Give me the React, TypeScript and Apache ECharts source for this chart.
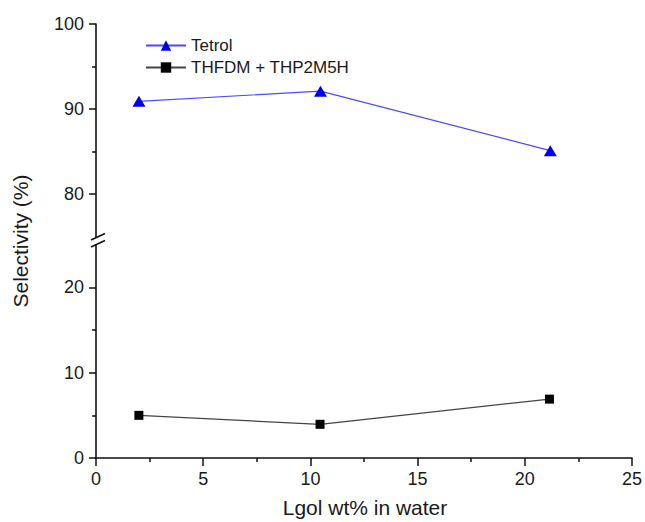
import React, { useEffect, useRef } from "react";
import * as echarts from "echarts";

const xValues = [2.0, 10.45, 21.15];
const tetrolValues = [90.9, 92.1, 85.1];
const thfdmValues = [5.0, 3.95, 6.9];
const seriesNames = ["Tetrol", "THFDM + THP2M5H"];
const upperMajorTicks = [80, 90, 100];
const upperMinorTicks = [85, 95];
const lowerMajorTicks = [0, 10, 20];
const lowerMinorTicks = [5, 15];
const xTitle = "Lgol wt% in water";
const yTitle = "Selectivity (%)";

const FONT = "Liberation Sans, Arial, sans-serif";
const AXIS_COLOR = "#111";
const LABEL_COLOR = "#1a1a1a";

export default function App() {
  const ref = useRef<HTMLDivElement>(null);
  useEffect(() => {
    document.body.style.margin = "0";
    if (!ref.current) return;
    const chart = echarts.init(ref.current, undefined, { renderer: "svg" });
    const gridLeft = 96;
    const gridRight = 12;
    const upperTop = 24;
    const upperHeight = 212.5;
    const lowerTop = 244.7;
    const lowerHeight = 213.3;

    const xAxisBase = {
      type: "value",
      min: 0,
      max: 25,
      interval: 5,
      splitLine: { show: false },
    };
    const yMain = (grid: number, min: number, max: number, ticks: number[]) => ({
      type: "value",
      gridIndex: grid,
      position: "left",
      min,
      max,
      interval: 5,
      splitLine: { show: false },
      axisLine: { show: true, lineStyle: { color: AXIS_COLOR, width: 1.6 } },
      axisTick: {
        show: true,
        length: 7,
        customValues: ticks,
        lineStyle: { color: AXIS_COLOR, width: 1.5 },
      },
      axisLabel: {
        customValues: ticks,
        fontSize: 18,
        color: LABEL_COLOR,
        fontFamily: FONT,
        margin: 12,
      },
    });
    const yMinor = (grid: number, min: number, max: number, ticks: number[]) => ({
      type: "value",
      gridIndex: grid,
      position: "left",
      offset: 0,
      min,
      max,
      interval: 5,
      splitLine: { show: false },
      axisLine: { show: false },
      axisTick: {
        show: true,
        length: 4,
        customValues: ticks,
        lineStyle: { color: AXIS_COLOR, width: 1.5 },
      },
      axisLabel: { show: false },
    });

    const legendBase = {
      left: 140,
      orient: "horizontal",
      itemWidth: 40,
      itemHeight: 13,
      itemGap: 6,
      textStyle: { fontSize: 17, color: LABEL_COLOR, fontFamily: FONT },
    };

    chart.setOption({
      animation: false,
      backgroundColor: "#ffffff",
      textStyle: { fontFamily: FONT },
      grid: [
        { left: gridLeft, right: gridRight, top: upperTop, height: upperHeight },
        { left: gridLeft, right: gridRight, top: lowerTop, height: lowerHeight },
      ],
      xAxis: [
        {
          ...xAxisBase,
          gridIndex: 0,
          show: false,
        },
        {
          ...xAxisBase,
          gridIndex: 1,
          axisLine: { show: true, lineStyle: { color: AXIS_COLOR, width: 1.6 } },
          axisTick: { show: true, length: 8, lineStyle: { color: AXIS_COLOR, width: 1.5 } },
          minorTick: {
            show: true,
            splitNumber: 2,
            length: 4,
            lineStyle: { color: AXIS_COLOR, width: 1.5 },
          },
          axisLabel: {
            fontSize: 18,
            color: LABEL_COLOR,
            fontFamily: FONT,
            margin: 12,
          },
        },
      ],
      yAxis: [
        yMain(0, 75, 100, upperMajorTicks),
        yMinor(0, 75, 100, upperMinorTicks),
        yMain(1, 0, 25, lowerMajorTicks),
        yMinor(1, 0, 25, lowerMinorTicks),
      ],
      legend: [
        { ...legendBase, data: [seriesNames[0]], top: 32 },
        { ...legendBase, data: [seriesNames[1]], top: 54 },
      ],
      series: [
        {
          name: seriesNames[0],
          type: "line",
          xAxisIndex: 0,
          yAxisIndex: 0,
          data: xValues.map((x, i) => [x, tetrolValues[i]]),
          symbol: "triangle",
          symbolSize: [13, 11],
          itemStyle: { color: "#0000ee" },
          lineStyle: { color: "#4a4aff", width: 1.2 },
        },
        {
          name: seriesNames[1],
          type: "line",
          xAxisIndex: 1,
          yAxisIndex: 2,
          data: xValues.map((x, i) => [x, thfdmValues[i]]),
          symbol: "rect",
          symbolSize: 9,
          itemStyle: { color: "#000000" },
          lineStyle: { color: "#444444", width: 1.2 },
        },
      ],
      graphic: [
        {
          type: "line",
          shape: { x1: 91, y1: 240, x2: 105, y2: 233.5 },
          style: { stroke: AXIS_COLOR, lineWidth: 1.5 },
        },
        {
          type: "line",
          shape: { x1: 91, y1: 247, x2: 105, y2: 240.5 },
          style: { stroke: AXIS_COLOR, lineWidth: 1.5 },
        },
        {
          type: "line",
          shape: { x1: gridLeft, y1: upperTop + upperHeight, x2: gridLeft, y2: 237 },
          style: { stroke: AXIS_COLOR, lineWidth: 1.5 },
        },
        {
          type: "text",
          x: 20,
          y: 241,
          rotation: Math.PI / 2,
          style: {
            text: yTitle,
            fontSize: 21,
            fontFamily: FONT,
            fill: LABEL_COLOR,
            align: "center",
            verticalAlign: "middle",
          },
        },
        {
          type: "text",
          x: 365,
          y: 507,
          style: {
            text: xTitle,
            fontSize: 21,
            fontFamily: FONT,
            fill: LABEL_COLOR,
            align: "center",
            verticalAlign: "middle",
          },
        },
      ],
    });
    return () => chart.dispose();
  }, []);
  return <div ref={ref} style={{ width: 645, height: 522 }} />;
}
